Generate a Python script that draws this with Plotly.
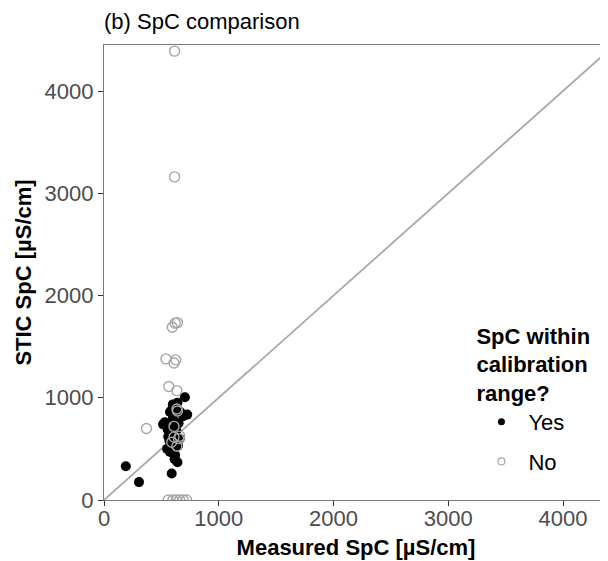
import plotly.graph_objects as go

# Measured vs STIC SpC, split by whether SpC was within calibration range
yes_measured = [190, 305, 590, 705, 600, 635, 575, 690, 725, 530, 515, 555, 660, 550, 575,
                615, 640, 645, 600, 620, 580, 650, 610, 570, 630, 590, 620, 665, 560, 640]
yes_stic = [330, 175, 260, 1005, 935, 890, 860, 820, 835, 760, 740, 690, 600, 500, 470,
            400, 370, 530, 800, 720, 650, 750, 560, 580, 680, 880, 440, 860, 620, 950]

no_measured = [615, 615, 595, 620, 640, 540, 625, 610, 565, 635, 370, 635, 610, 660, 590,
               635, 610, 640, 650, 560, 600, 630, 660, 690, 720]
no_stic = [4390, 3160, 1690, 1730, 1735, 1380, 1370, 1340, 1110, 1070, 700, 890, 720, 625, 565,
           525, 615, 870, 600, 0, 0, 0, 0, 0, 0]

x_range = [0, 4392]
y_range = [0, 4450]
ticks = [0, 1000, 2000, 3000, 4000]
one_to_one = [0, 5000]

FONT = "Liberation Sans, Arial, sans-serif"
GREY = "#a6a6a6"

# page body has an 8px margin; figure is sized so it fits the 608x561 window
W, H = 600, 553

fig = go.Figure()
fig.add_trace(go.Scatter(x=one_to_one, y=one_to_one, mode="lines",
                         line=dict(color="#a9a9a9", width=1.8),
                         showlegend=False, hoverinfo="skip"))
fig.add_trace(go.Scatter(x=yes_measured, y=yes_stic, mode="markers",
                         marker=dict(color="black", size=10, line=dict(width=0)),
                         showlegend=False))
fig.add_trace(go.Scatter(x=no_measured, y=no_stic, mode="markers",
                         marker=dict(symbol="circle-open", color=GREY, size=10,
                                     line=dict(width=1.4, color=GREY)),
                         showlegend=False))
# legend keys (small symbols as in the reference)
fig.add_trace(go.Scatter(x=[None], y=[None], mode="markers", name="Yes", legendgroup="yes",
                         marker=dict(color="black", size=7)))
fig.add_trace(go.Scatter(x=[None], y=[None], mode="markers", name="No", legendgroup="no",
                         marker=dict(symbol="circle-open", color=GREY, size=7,
                                     line=dict(width=1.2, color=GREY))))

fig.update_layout(
    width=W, height=H,
    margin=dict(l=96, r=0, t=37, b=61, autoexpand=False),
    paper_bgcolor="white", plot_bgcolor="white",
    font=dict(family=FONT, size=22, color="black"),
    title=dict(text="(b) SpC comparison", x=96/W, xanchor="left", xref="container",
               y=1 - 13/H, yanchor="middle", yref="container",
               font=dict(size=22, color="black")),
    legend=dict(x=0.735, xanchor="left", y=0.406, yanchor="top",
                title=dict(text="<b>SpC within<br>calibration<br>range?</b>", font=dict(size=22)),
                font=dict(size=22), bgcolor="rgba(0,0,0,0)",
                tracegroupgap=8, itemwidth=44),
    xaxis=dict(range=x_range, tickvals=ticks, showgrid=False, zeroline=False,
               showline=True, linecolor="#7a7a7a", linewidth=1.2, mirror=True,
               ticks="outside", ticklen=5, tickcolor="#333333",
               ticklabelstandoff=-7,
               tickfont=dict(size=22, color="#4d4d4d"),
               title=dict(text="<b>Measured SpC [µS/cm]</b>", font=dict(size=22), standoff=10)),
    yaxis=dict(range=y_range, tickvals=ticks, showgrid=False, zeroline=False,
               showline=True, linecolor="#7a7a7a", linewidth=1.2, mirror=False,
               ticks="outside", ticklen=5, tickcolor="#333333",
               tickfont=dict(size=22, color="#4d4d4d"),
               title=dict(text="<b>STIC SpC [µS/cm]</b>", font=dict(size=22), standoff=6)),
)

fig.write_html("out.html")
